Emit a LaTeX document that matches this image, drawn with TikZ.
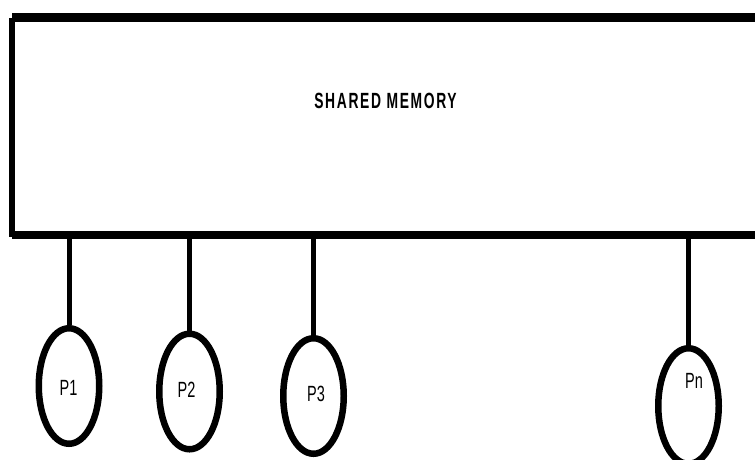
\documentclass[tikz,border=0pt]{standalone}
\usepackage{fontspec}
\setmainfont{Liberation Sans}
\newfontfamily\procfont[FakeStretch=0.66]{Liberation Sans}
\newfontfamily\titlefont[FakeStretch=0.63,LetterSpace=7.5]{Liberation Sans Bold}
\usetikzlibrary{shapes.geometric}
\tikzset{
  memedge/.style={line width=#1, line cap=butt},
  proc/.style={draw, ellipse, line width=6.5pt, minimum width=60.5pt, minimum height=115.5pt, inner sep=0pt, fill=white},
  lbl/.style={inner sep=0pt, font=\procfont\fontsize{22}{26}\selectfont},
  stem/.style={line width=5pt},
}
\begin{document}
\begin{tikzpicture}[x=1pt,y=-1pt]
\useasboundingbox (0,0) rectangle (755,459);
\clip (0,0) rectangle (755,459);
% shared memory block (extends past the right edge)
\node[inner sep=0pt, minimum width=758pt, minimum height=217pt, anchor=north west] (mem) at (12,17.5) {};
\node[inner sep=0pt, font=\titlefont\fontsize{22}{26}\selectfont] (title) at (385.5,100.5) {SHARED MEMORY};
\draw[memedge=9pt] (mem.north west) -- (mem.north east);
\draw[memedge=5.5pt] (mem.north west) -- ([yshift=-2pt]mem.south west);
\draw[memedge=8pt] (mem.south west) -- (mem.south east);
% processors
\node[proc] (p1) at (69,386) {};
\node[proc] (p2) at (189.5,391.5) {};
\node[proc] (p3) at (313.5,396) {};
\node[proc] (pn) at (688.5,406) {};
\node[lbl] (l1) at (68.5,387.5) {P1};
\node[lbl] (l2) at (186.5,389.5) {P2};
\node[lbl] (l3) at (316,393.5) {P3};
\node[lbl] (ln) at (694,381) {Pn};
% connectors
\draw[stem] (p1.north) -- (p1.north |- mem.south);
\draw[stem] (p2.north) -- (p2.north |- mem.south);
\draw[stem] (p3.north) -- (p3.north |- mem.south);
\draw[stem] (pn.north) -- (pn.north |- mem.south);
\end{tikzpicture}
\end{document}
